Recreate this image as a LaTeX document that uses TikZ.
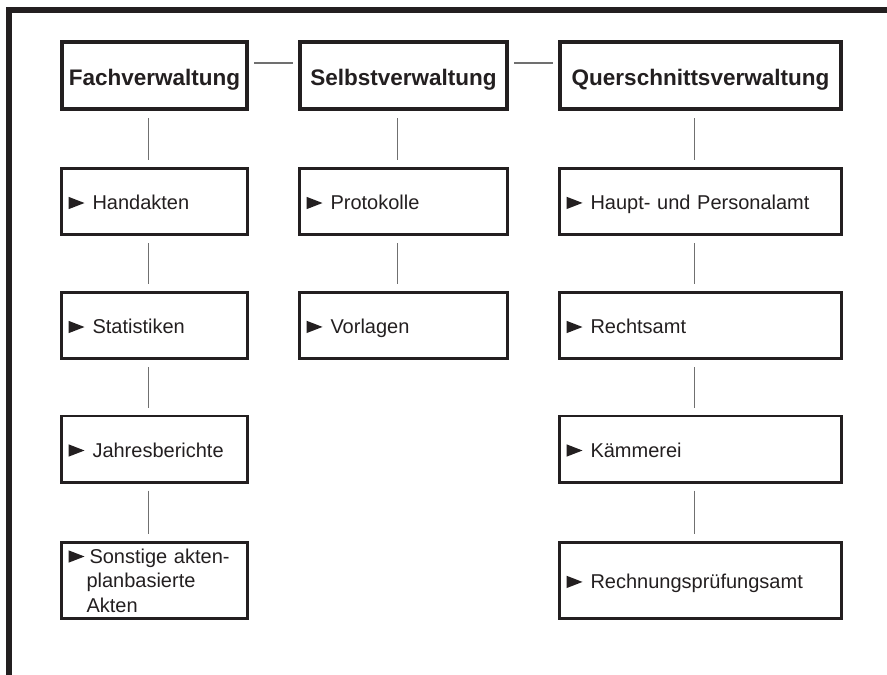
\documentclass[tikz,border=0pt]{standalone}
\usepackage{fontspec}
\setmainfont{Liberation Sans}
\definecolor{rand}{HTML}{231F20}
\definecolor{linie}{HTML}{707070}
\newcommand\spitze{\tikz[x=1pt,y=1pt,baseline=0pt]\fill[rand] (0,0.3) -- (16,6.5) -- (0,12.7) -- cycle;}
\newcommand\dreieck{\spitze\hspace{8pt}}
\tikzset{
  kopf/.style={draw=rand, line width=4pt, minimum height=67pt, inner sep=0pt,
    text height=23pt, text depth=4pt, text=rand, font=\fontsize{22.5}{26}\selectfont\bfseries},
  feld/.style={draw=rand, line width=2.6pt, minimum height=66.4pt, inner xsep=7pt,
    inner ysep=0pt, align=left, text=rand, font=\fontsize{20}{24.5}\selectfont,
    execute at begin node={\rule[-4pt]{0pt}{24pt}}},
  verb/.style={draw=linie, line width=1.3pt, shorten >=7pt, shorten <=7pt},
}
\begin{document}
\begin{tikzpicture}[x=1pt, y=-1pt, line join=miter]
\useasboundingbox (0,0) rectangle (887,675);
% Rahmen oben und links
\draw[rand, line width=6pt] (887,10) -- (9,10) -- (9,675);

% Kopfzeile
\node[kopf, minimum width=185pt] (fach) at (154.5,75.5) {Fachverwaltung};
\node[kopf, minimum width=207pt] (selbst) at (403.5,75.5) {Selbstverwaltung};
\node[kopf, minimum width=281pt] (quer) at (700.5,75.5) {Querschnittsverwaltung};

% Fachverwaltung
\node[feld, text width=172pt] (hand) at (154.5,201.5) {\dreieck Handakten};
\node[feld, text width=172pt] (stat) at (154.5,325.5) {\dreieck Statistiken};
\node[feld, text width=172pt] (jahr) at (154.5,449) {\dreieck Jahresberichte};
\node[feld, text width=172pt, minimum height=76pt, text height=20pt, text depth=55pt] (sonst) at (154.5,580.5)
  {\spitze\hspace{5pt}Sonstige akten-\\\hspace*{18pt}planbasierte\\\hspace*{18pt}Akten};

% Selbstverwaltung
\node[feld, text width=194pt] (prot) at (403.5,201.5) {\dreieck Protokolle};
\node[feld, text width=194pt] (vorl) at (403.5,325.5) {\dreieck Vorlagen};

% Querschnittsverwaltung
\node[feld, text width=268pt] (haupt) at (700.5,201.5) {\dreieck Haupt- und Personalamt};
\node[feld, text width=268pt] (recht) at (700.5,325.5) {\dreieck Rechtsamt};
\node[feld, text width=268pt] (kaem) at (700.5,449) {\dreieck Kämmerei};
\node[feld, text width=268pt, minimum height=76pt] (rpa) at (700.5,580.5) {\dreieck Rechnungsprüfungsamt};

% Verbindungen
\draw[verb, shorten >=5pt, shorten <=5pt] ([yshift=12.5pt]fach.east) -- ([yshift=12.5pt]selbst.west);
\draw[verb, shorten >=5pt, shorten <=5pt] ([yshift=12.5pt]selbst.east) -- ([yshift=12.5pt]quer.west);
\foreach \a/\b in {fach/hand, hand/stat, stat/jahr, jahr/sonst, selbst/prot, prot/vorl,
    quer/haupt, haupt/recht, recht/kaem, kaem/rpa}
  \draw[verb] ([xshift=-6pt]\a.south) -- ([xshift=-6pt]\b.north);
\end{tikzpicture}
\end{document}
